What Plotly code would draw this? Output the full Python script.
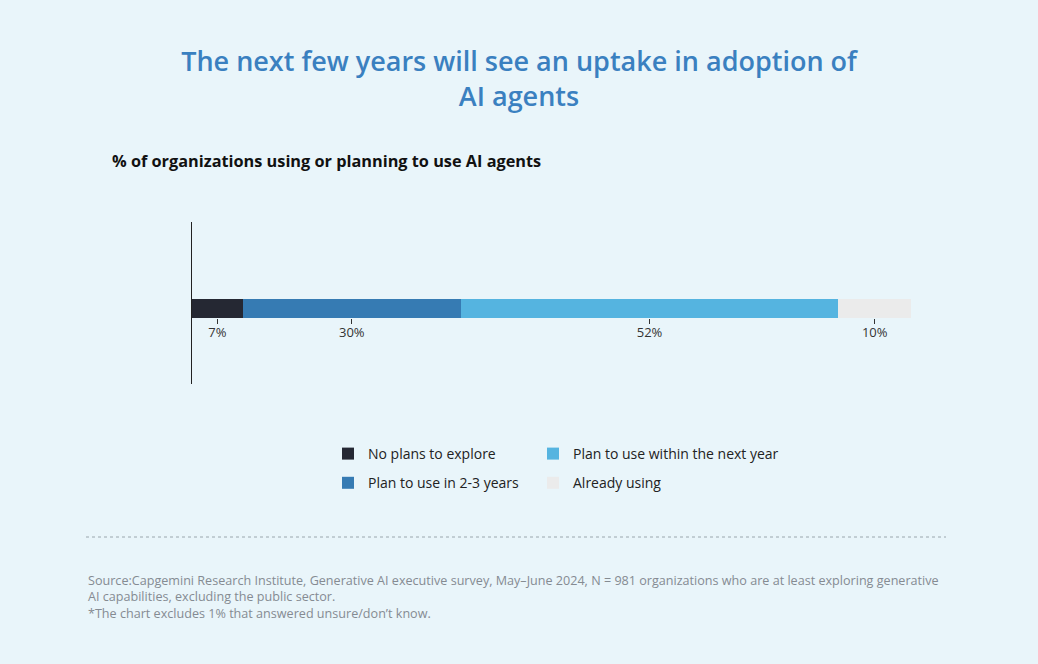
import plotly.graph_objects as go

categories = ["No plans to explore", "Plan to use in 2-3 years",
              "Plan to use within the next year", "Already using"]
values = [7, 30, 52, 10]
colors = ["#252833", "#367bb3", "#55b4e0", "#ebebeb"]
legend_ids = ["legend", "legend", "legend2", "legend2"]

title_text = "The next few years will see an uptake in adoption of<br>AI agents"
subtitle_text = "% of organizations using or planning to use AI agents"
source_text = ("Source:Capgemini Research Institute, Generative AI executive survey, May–June 2024, N = 981 organizations who are at least exploring generative<br>"
               "AI capabilities, excluding the public sector.<br>"
               "*The chart excludes 1% that answered unsure/don’t know.")

W, H = 1038, 664
L, R, T, B = 192, 127, 222, 280
pw, ph = W - L - R, H - T - B


def px_x(x):
    return (x - L) / pw


def px_y(y):
    return (H - B - y) / ph


bg = "#e9f5fa"
bar_w = 0.117
y_lo = -0.466
y_hi = y_lo + 1.0

fig = go.Figure()
for cat, val, col, lg in zip(categories, values, colors, legend_ids):
    fig.add_trace(go.Bar(
        x=[val], y=[0], name=cat, orientation="h",
        marker=dict(color=col, line=dict(width=0)),
        width=bar_w, legend=lg, legendgroup=cat, hoverinfo="x+name",
    ))

# tick labels at segment centres
mids = []
acc = 0
for v in values:
    mids.append(acc + v / 2)
    acc += v

total = sum(values)
axis_pos = (-bar_w / 2 - y_lo) / (y_hi - y_lo)

fig.update_layout(
    width=W, height=H,
    barmode="stack",
    paper_bgcolor=bg, plot_bgcolor=bg,
    margin=dict(l=L, r=R, t=T, b=B, autoexpand=False),
    font=dict(family="Open Sans", color="#222"),
    title=dict(text=title_text, x=0.5, xanchor="center",
               y=1 - 71 / H, yanchor="top", yref="container",
               font=dict(size=27, color="#3a80c0", family="Open Sans", weight=600)),
    xaxis=dict(range=[0, total], showgrid=False, zeroline=False, showline=False,
               tickvals=mids, ticktext=[f"{v}%" for v in values],
               ticks="outside", ticklen=5, tickcolor="#333", tickwidth=1,
               ticklabelstandoff=-3,
               tickfont=dict(size=13, color="#333"),
               anchor="free", position=axis_pos, fixedrange=True),
    yaxis=dict(range=[y_lo, y_hi], showgrid=False, zeroline=False,
               showline=True, linecolor="#222", linewidth=1,
               showticklabels=False, ticks="", fixedrange=True),
    showlegend=True,
    legend=dict(x=px_x(328), y=px_y(438), xanchor="left", yanchor="top",
                orientation="v", bgcolor="rgba(0,0,0,0)",
                font=dict(size=14, color="#222"), tracegroupgap=8,
                itemclick=False, itemdoubleclick=False, traceorder="grouped"),
    legend2=dict(x=px_x(533), y=px_y(438), xanchor="left", yanchor="top",
                 orientation="v", bgcolor="rgba(0,0,0,0)",
                 font=dict(size=14, color="#222"), tracegroupgap=8,
                 itemclick=False, itemdoubleclick=False, traceorder="grouped"),
    annotations=[
        dict(text=subtitle_text, xref="paper", yref="paper",
             x=px_x(110), y=px_y(161), xanchor="left", yanchor="middle",
             showarrow=False, font=dict(size=16.3, color="#111", family="Open Sans", weight=700)),
        dict(text=source_text, xref="paper", yref="paper",
             x=px_x(86), y=px_y(570), xanchor="left", yanchor="top", align="left",
             showarrow=False, font=dict(size=12.6, color="#858b92", family="Open Sans")),
    ],
    shapes=[
        dict(type="line", xref="paper", yref="paper",
             x0=px_x(86), x1=px_x(946), y0=px_y(537), y1=px_y(537),
             line=dict(color="#9aa6ad", width=1, dash="dot")),
    ],
)

fig.write_html("out.html", config={"displayModeBar": False},
               post_script="document.body.style.margin='0';")
